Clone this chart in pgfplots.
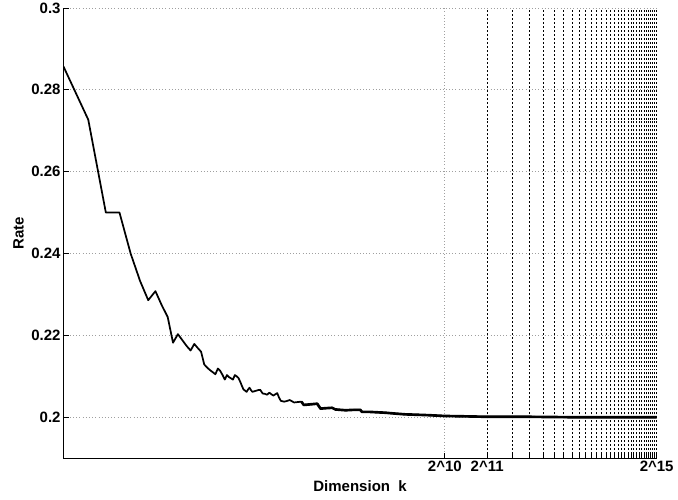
\documentclass[border=0pt]{standalone}
\usepackage{fontspec}
\setmainfont{Liberation Sans}
\usepackage{pgfplots}
\pgfplotsset{compat=1.18}
\pgfplotstableread{
k r
2 0.2857
3 0.2727
4 0.2500
5 0.2500
6 0.2400
7 0.2333
8 0.2286
9 0.2308
10 0.2273
11 0.2245
12 0.2182
13 0.2203
14 0.2188
15 0.2174
16 0.2163
17 0.2179
18 0.2169
19 0.2160
20 0.2129
21 0.2121
22 0.2115
23 0.2110
24 0.2105
25 0.2119
26 0.2113
27 0.2103
28 0.2092
29 0.2103
30 0.2098
31 0.2095
32 0.2092
33 0.2103
34 0.2100
35 0.2096
36 0.2087
37 0.2077
38 0.2068
39 0.2065
40 0.2062
41 0.2068
42 0.2072
43 0.2066
44 0.2062
46 0.2064
48 0.2066
50 0.2067
52 0.2058
54 0.2057
56 0.2055
58 0.2060
60 0.2056
62 0.2053
64 0.2056
66 0.2059
68 0.2048
70 0.2040
72 0.2039
74 0.2038
78 0.2040
81 0.2042
84 0.2039
87 0.2036
92 0.2037
98 0.2038
102 0.2030
110 0.2031
118 0.2032
127 0.2033
134 0.2021
145 0.2022
162 0.2023
171 0.2019
185 0.2018
202 0.2017
230 0.2018
257 0.2018
264 0.2013
300 0.2013
340 0.2012
387 0.2011
450 0.2009
536 0.2007
650 0.2006
784 0.2005
1024 0.2003
1500 0.2002
2048 0.2001
4096 0.2001
8192 0.2000
16384 0.2000
32768 0.2000
}\ratedata
\pgfplotstableread{
k r
98 0.2038
102 0.2030
110 0.2031
118 0.2032
127 0.2033
134 0.2021
145 0.2022
162 0.2023
171 0.2019
185 0.2018
202 0.2017
230 0.2018
257 0.2018
264 0.2013
300 0.2013
340 0.2012
387 0.2011
450 0.2009
536 0.2007
650 0.2006
784 0.2005
1024 0.2003
1500 0.2002
2048 0.2001
4096 0.2001
8192 0.2000
16384 0.2000
32768 0.2000
}\taildata
\begin{document}
\begin{tikzpicture}
\begin{axis}[
  name=ax,
  scale only axis,
  width=446.7pt, height=339pt,
  xmode=log, log basis x=2,
  xmin=2, xmax=32768, ymin=0.19, ymax=0.3,
  axis x line*=bottom, axis y line*=left,
  axis line style={-, black, line width=0.5pt},
  tick align=inside, major tick length=4pt,
  tick style={black, line width=0.5pt},
  xtick={1024}, xticklabels={2\textasciicircum 10},
  extra x ticks={2048,3072,4096,5120,6144,7168,8192,9216,10240,11264,12288,13312,14336,15360,16384,17408,18432,19456,20480,21504,22528,23552,24576,25600,26624,27648,28672,29696,30720,31744,32768},
  extra x tick labels={2\textasciicircum 11,{},{},{},{},{},{},{},{},{},{},{},{},{},{},{},{},{},{},{},{},{},{},{},{},{},{},{},{},{},2\textasciicircum 15},
  extra x tick style={grid=major, major grid style={black, dash pattern=on 1.5pt off 1.5pt, line width=0.5pt}},
  ytick={0.2,0.22,0.24,0.26,0.28,0.3},
  yticklabels={0.2,0.22,0.24,0.26,0.28,0.3},
  xmajorgrids, ymajorgrids,
  major grid style={gray!75, dotted, line width=0.5pt},
  ticklabel style={font=\fontsize{11.3}{13}\selectfont\bfseries},
  yticklabel style={inner xsep=2pt, inner ysep=0pt},
  xticklabel style={inner ysep=2pt},
  xlabel={Dimension~~k}, ylabel={Rate},
  label style={font=\fontsize{11.3}{13}\selectfont\bfseries},
  xlabel style={at={([yshift=-21pt]axis description cs:0.5,0)}, anchor=center},
  ylabel style={at={([xshift=-33.9pt]axis description cs:0,0.5)}, anchor=center},
]
\addplot[black, line width=1.3pt, line join=round] table[x=k, y=r] {\ratedata};
\addplot[black, line width=2pt, line join=round] table[x=k, y=r] {\taildata};
\end{axis}
\path (ax.south west) ++(-47.8pt,-31.5pt);
\path (ax.north east) ++(14pt,6pt);
\end{tikzpicture}
\end{document}
